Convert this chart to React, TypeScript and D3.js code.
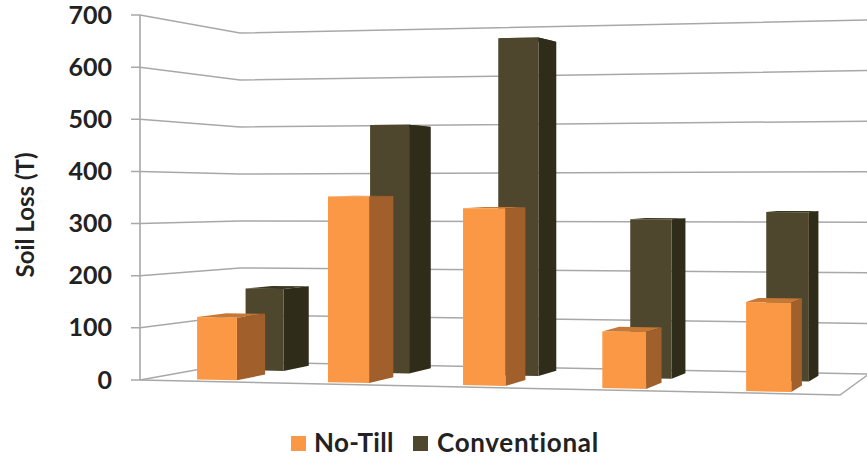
import React from "react";
import * as d3 from "d3";

const categories = ["A", "B", "C", "D", "E"];
const seriesNames = ["No-Till", "Conventional"];
const noTill = [120, 353, 332, 105, 163];
const conventional = [165, 494, 663, 308, 323];
const yTicks = [0, 100, 200, 300, 400, 500, 600, 700];

const W = 867;
const H = 459;
const FONT = "Lato, 'Open Sans', sans-serif";
const INK = "#222222";

// Floor corners of the chart box on screen, and wall height at each of them
const FL: [number, number] = [140, 380];
const FR: [number, number] = [840, 395];
const BR: [number, number] = [869, 374];
const BL: [number, number] = [240, 362];
const heightFL = 365;
const heightFR = 388;
const heightBR = 354;
const heightBL = 329;

function makeFloor(p0: number[], p1: number[], p2: number[], p3: number[]) {
  const dx1 = p1[0] - p2[0], dx2 = p3[0] - p2[0], sx = p0[0] - p1[0] + p2[0] - p3[0];
  const dy1 = p1[1] - p2[1], dy2 = p3[1] - p2[1], sy = p0[1] - p1[1] + p2[1] - p3[1];
  const den = dx1 * dy2 - dx2 * dy1;
  const g = (sx * dy2 - dx2 * sy) / den;
  const h = (dx1 * sy - sx * dy1) / den;
  const a = p1[0] - p0[0] + g * p1[0];
  const b = p3[0] - p0[0] + h * p3[0];
  const d = p1[1] - p0[1] + g * p1[1];
  const e = p3[1] - p0[1] + h * p3[1];
  return (u: number, v: number): [number, number] => {
    const w = g * u + h * v + 1;
    return [(a * u + b * v + p0[0]) / w, (d * u + e * v + p0[1]) / w];
  };
}

const floor = makeFloor(FL, FR, BR, BL);
const yScale = d3.scaleLinear().domain([0, 700]).range([0, 1]);
const uScale = d3.scaleBand<string>().domain(categories).range([0.006, 1]).paddingInner(0.6925).paddingOuter(0.346);
const dScale = d3.scaleBand<string>().domain(seriesNames).range([0.08, 0.86]).paddingInner(0.408).paddingOuter(0);

// Projects a point given by position along the axis, depth and data value
function project(u: number, depth: number, value: number): [number, number] {
  const [x, y] = floor(u, depth);
  const wall =
    heightFL * (1 - u) * (1 - depth) + heightFR * u * (1 - depth) + heightBL * (1 - u) * depth + heightBR * u * depth;
  return [x, y - yScale(value) * wall];
}

const line = d3.line();
const poly = (pts: [number, number][]) => line(pts) + "Z";

const palette = [
  { front: "#FB9845", side: "#A05F2B", top: "#C67836" },
  { front: "#4F472D", side: "#2F2C1A", top: "#3B3722" },
];

function Bar({ cat, series, value, colors }: { cat: string; series: string; value: number; colors: typeof palette[0] }) {
  const u0 = uScale(cat)!;
  const u1 = u0 + uScale.bandwidth();
  const d0 = dScale(series)!;
  const d1 = d0 + dScale.bandwidth();
  const front = [project(u0, d0, 0), project(u1, d0, 0), project(u1, d0, value), project(u0, d0, value)];
  const side = [project(u1, d0, 0), project(u1, d1, 0), project(u1, d1, value), project(u1, d0, value)];
  const top = [project(u0, d0, value), project(u1, d0, value), project(u1, d1, value), project(u0, d1, value)];
  return (
    <g>
      <path d={poly(top)} fill={colors.top} />
      <path d={poly(side)} fill={colors.side} />
      <path d={poly(front)} fill={colors.front} />
    </g>
  );
}

export default function App() {
  const grid = "#A8A8A8";
  return (
    <svg width={W} height={H} style={{ position: "absolute", left: 0, top: 0, background: "#fff" }}>
      {/* Gridlines running along the side wall and the back wall */}
      {yTicks.map((t) => (
        <g key={t}>
          <path
            d={line([[131, project(0, 0, t)[1]], project(0, 0, t), project(0, 1, t), project(1, 1, t)])!}
            fill="none"
            stroke={grid}
            strokeWidth={1.5}
          />
          <text x={112} y={project(0, 0, t)[1] + 8.5} textAnchor="end" fontFamily={FONT} fontWeight={700} fontSize={25} fill={INK}>
            {t}
          </text>
        </g>
      ))}
      <path d={line([project(0, 0, 0), project(0, 0, 700)])!} stroke={grid} strokeWidth={1.6} />
      <path d={line([FL, FR, BR])!} fill="none" stroke={grid} strokeWidth={1.5} />

      {categories.map((c, i) => (
        <Bar key={c} cat={c} series={seriesNames[1]} value={conventional[i]} colors={palette[1]} />
      ))}
      {categories.map((c, i) => (
        <Bar key={c} cat={c} series={seriesNames[0]} value={noTill[i]} colors={palette[0]} />
      ))}

      <text
        transform="translate(34,215) rotate(-90)"
        textAnchor="middle"
        fontFamily={FONT}
        fontWeight={700}
        fontSize={24}
        fill={INK}
      >
        Soil Loss (T)
      </text>

      <rect x={291} y={436} width={15} height={15} fill={palette[0].front} />
      <text x={314} y={452} fontFamily={FONT} fontWeight={700} fontSize={26} letterSpacing={0.3} fill={INK}>
        {seriesNames[0]}
      </text>
      <rect x={413} y={436} width={15} height={15} fill={palette[1].front} />
      <text x={437} y={452} fontFamily={FONT} fontWeight={700} fontSize={26} letterSpacing={0.7} fill={INK}>
        {seriesNames[1]}
      </text>
    </svg>
  );
}
